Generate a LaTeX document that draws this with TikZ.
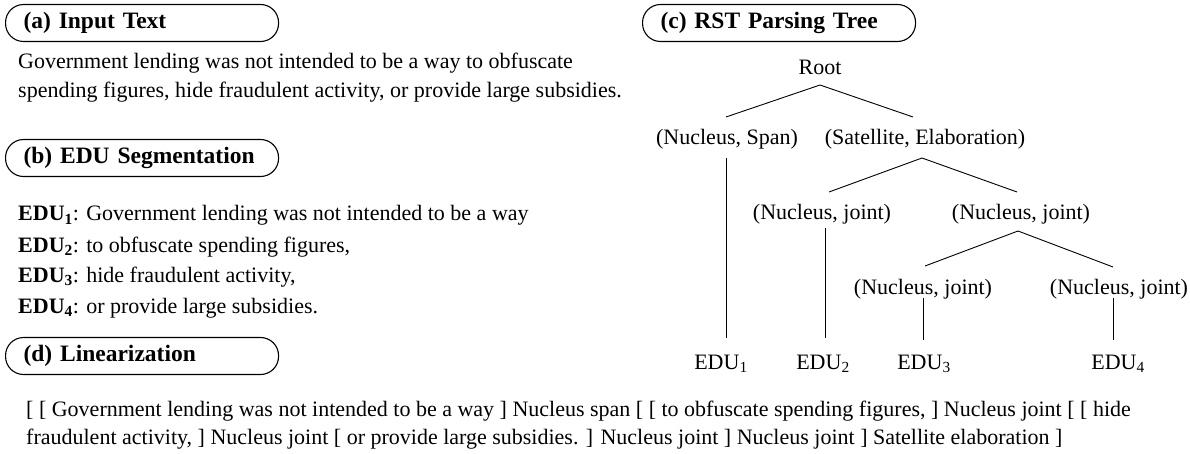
\documentclass[tikz,border=0pt]{standalone}
\usepackage{fontspec}
\setmainfont{Liberation Serif}
\usetikzlibrary{calc}
\begin{document}
\begin{tikzpicture}[x=1pt,y=-1pt,
  hdr/.style={draw, line width=1.1pt, rounded corners=18pt, minimum height=37pt, text width=237pt, inner xsep=18pt, inner ysep=0pt, align=left, anchor=west, font=\fontsize{23.5}{28}\selectfont\bfseries},
  txt/.style={anchor=base west, inner sep=0pt, font=\fontsize{22}{26}\selectfont},
  tn/.style={anchor=base, inner sep=0pt, font=\fontsize{22}{26}\selectfont},
  br/.style={line width=0.9pt}]
\useasboundingbox (0,0) rectangle (1190,454);
% headers
\node[hdr] (ha) at (5,23) {(a) Input Text};
\node[hdr] (hb) at (5,158) {(b) EDU Segmentation};
\node[hdr] (hd) at (5,356) {(d) Linearization};
\node[hdr] (hc) at (642,23) {(c) RST Parsing Tree};
% input text
\node[txt] (in1) at (18,69) {Government lending was not intended to be a way to obfuscate};
\node[txt] (in2) at (18,98) {spending figures, hide fraudulent activity, or provide large subsidies.};
% EDUs
\node[txt] (s1) at (18,221) {\textbf{EDU\textsubscript{1}}: Government lending was not intended to be a way};
\node[txt] (s2) at (18,252) {\textbf{EDU\textsubscript{2}}: to obfuscate spending figures,};
\node[txt] (s3) at (18,282) {\textbf{EDU\textsubscript{3}}: hide fraudulent activity,};
\node[txt] (s4) at (18,313) {\textbf{EDU\textsubscript{4}}: or provide large subsidies.};
% linearization
\node[txt] (l1) at (26,416) {[ [ Government lending was not intended to be a way ] Nucleus span [ [ to obfuscate spending figures, ] Nucleus joint [ [ hide};
\node[txt] (l2) at (26,444) {fraudulent activity, ] Nucleus joint [ or provide large subsidies. ] Nucleus joint ] Nucleus joint ] Satellite elaboration ]};
% tree
\node[tn] (root) at (820,75) {Root};
\node[tn] (ns) at (727,145) {(Nucleus, Span)};
\node[tn] (se) at (925,145) {(Satellite, Elaboration)};
\node[tn] (j1) at (822,220) {(Nucleus, joint)};
\node[tn] (j2) at (1021,220) {(Nucleus, joint)};
\node[tn] (j3) at (923,294) {(Nucleus, joint)};
\node[tn] (j4) at (1119,294) {(Nucleus, joint)};
\node[tn] (e1) at (721,369) {EDU\textsubscript{1}};
\node[tn] (e2) at (823,369) {EDU\textsubscript{2}};
\node[tn] (e3) at (924,369) {EDU\textsubscript{3}};
\node[tn] (e4) at (1118,369) {EDU\textsubscript{4}};
\draw[br] ($(ns.base)+(-1,-28)$) -- ($(root.base)+(0,10)$) -- ($(se.base)+(-12,-28)$);
\draw[br] ($(ns.base)+(-1,13)$) -- ($(e1.base)+(5,-31)$);
\draw[br] ($(j1.base)+(7,-28)$) -- ($(se.base)+(-3,13)$) -- ($(j2.base)+(-4,-28)$);
\draw[br] ($(j1.base)+(3,8)$) -- ($(e2.base)+(2,-31)$);
\draw[br] ($(j3.base)+(2,-28)$) -- ($(j2.base)+(-3,11)$) -- ($(j4.base)+(-6,-27)$);
\draw[br] ($(j3.base)+(0,4)$) -- ($(e3.base)+(-1,-29)$);
\draw[br] ($(j4.base)+(-6,4)$) -- ($(e4.base)+(-5,-29)$);
\end{tikzpicture}
\end{document}
